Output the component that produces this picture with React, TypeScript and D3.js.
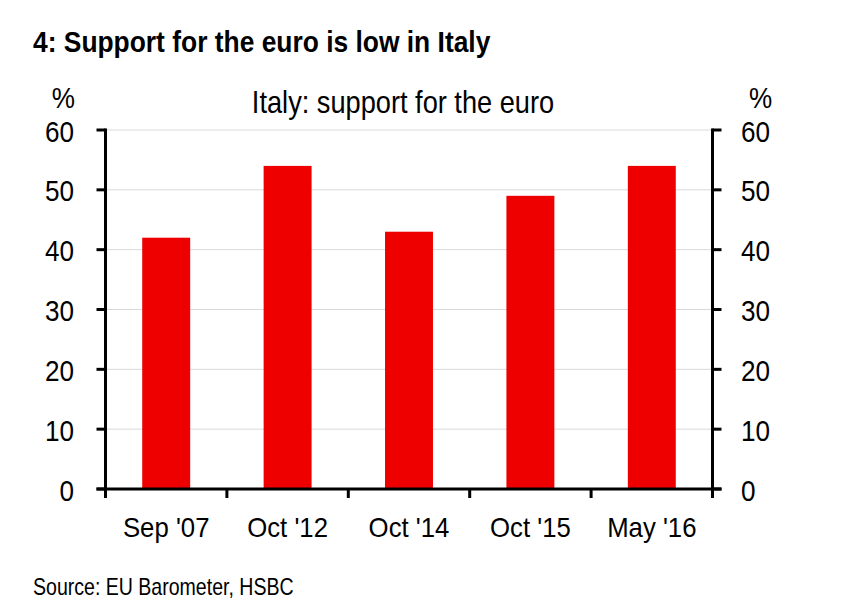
import React from "react";
import * as d3 from "d3";

const categories = ["Sep '07", "Oct '12", "Oct '14", "Oct '15", "May '16"];
const support = [42, 54, 43, 49, 54];
const yTicks = [0, 10, 20, 30, 40, 50, 60];

const W = 846;
const H = 616;
const FONT = "'Liberation Sans', Arial, sans-serif";

type TProps = {
  x: number;
  y: number;
  size: number;
  sx: number;
  anchor?: "start" | "middle" | "end";
  bold?: boolean;
  children: React.ReactNode;
};

function T({ x, y, size, sx, anchor = "start", bold = false, children }: TProps) {
  return (
    <text
      transform={`translate(${x},${y}) scale(${sx},1)`}
      textAnchor={anchor}
      fontFamily={FONT}
      fontSize={size}
      fontWeight={bold ? "bold" : "normal"}
      fill="#000"
    >
      {children}
    </text>
  );
}

export default function App() {
  const left = 105.5;
  const right = 712.5;
  const top = 130;
  const bottom = 489;

  const x = d3.scaleBand<string>().domain(categories).range([left, right]).paddingInner(0).paddingOuter(0);
  const y = d3.scaleLinear().domain([0, 60]).range([bottom, top]);
  const barW = x.bandwidth() * 0.395;

  const bounds = [...categories.map((c) => x(c) as number), right];

  return (
    <svg width={W} height={H} style={{ position: "absolute", left: 0, top: 0, background: "#fff" }}>
      <T x={33} y={52} size={29} sx={0.91} bold>
        4: Support for the euro is low in Italy
      </T>
      <T x={403} y={113} size={32} sx={0.85} anchor="middle">
        Italy: support for the euro
      </T>
      <T x={75} y={108} size={30} sx={0.87} anchor="end">%</T>
      <T x={749} y={108} size={30} sx={0.87}>%</T>

      {yTicks.map((t) => (
        <g key={t}>
          {t > 0 && (
            <line x1={left} x2={right} y1={y(t)} y2={y(t)} stroke="#d9d9d9" strokeWidth={1} />
          )}
          <line x1={left - 9} x2={left} y1={y(t)} y2={y(t)} stroke="#000" strokeWidth={3} />
          <line x1={right} x2={right + 9} y1={y(t)} y2={y(t)} stroke="#000" strokeWidth={3} />
          <T x={74} y={y(t) + 11.5} size={30} sx={0.87} anchor="end">{t}</T>
          <T x={741} y={y(t) + 11.5} size={30} sx={0.87}>{t}</T>
        </g>
      ))}

      {categories.map((c, i) => (
        <rect
          key={c}
          x={(x(c) as number) + (x.bandwidth() - barW) / 2}
          y={y(support[i])}
          width={barW}
          height={y(0) - y(support[i])}
          fill="#ee0000"
        />
      ))}

      <line x1={left} x2={left} y1={top - 1.5} y2={bottom} stroke="#000" strokeWidth={3} />
      <line x1={right} x2={right} y1={top - 1.5} y2={bottom} stroke="#000" strokeWidth={3} />
      <line x1={left - 9} x2={right + 9} y1={bottom} y2={bottom} stroke="#000" strokeWidth={3} />
      {bounds.map((b, i) => (
        <line key={i} x1={b} x2={b} y1={bottom} y2={bottom + 9} stroke="#000" strokeWidth={3} />
      ))}

      {categories.map((c) => (
        <T key={c} x={(x(c) as number) + x.bandwidth() / 2} y={537} size={28} sx={0.92} anchor="middle">
          {c}
        </T>
      ))}

      <T x={33} y={595} size={23} sx={0.85}>
        Source: EU Barometer, HSBC
      </T>
    </svg>
  );
}
